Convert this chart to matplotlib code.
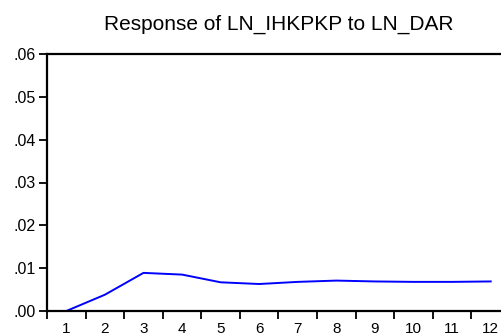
import matplotlib
matplotlib.use("Agg")
import matplotlib.pyplot as plt
import numpy as np

plt.rcParams['font.family'] = ['Liberation Sans', 'DejaVu Sans']

periods = [1, 2, 3, 4, 5, 6, 7, 8, 9, 10, 11, 12]
response = [0.0000, 0.0038, 0.0089, 0.0085, 0.0067, 0.0063,
            0.0068, 0.0071, 0.0069, 0.0068, 0.0068, 0.0069]
yticks = [0.00, 0.01, 0.02, 0.03, 0.04, 0.05, 0.06]
ylabels = ['.00', '.01', '.02', '.03', '.04', '.05', '.06']

fig = plt.figure(figsize=(5.02, 3.36), dpi=100)
# axes run past the right edge of the figure, so the last column gets clipped
ax = fig.add_axes([47/502, 1 - 311/336, 463/502, 257/336])

ax.plot(periods, response, color='#0000ff', lw=1.4)

ax.set_xlim(0.5, 12.5)
ax.set_ylim(0, 0.06)
ax.set_yticks(yticks)
ax.set_yticklabels(ylabels, fontsize=11.5)

# labels at the periods, tick marks between them
ax.set_xticks(periods)
ax.set_xticklabels([str(p) for p in periods], fontsize=11)
ax.tick_params(axis='x', which='major', length=0, pad=8)
ax.set_xticks(np.arange(0.5, 13, 1), minor=True)
ax.tick_params(axis='x', which='minor', direction='out', length=6, width=1.3)
ax.tick_params(axis='y', direction='out', length=6, width=1.3, pad=2)

for s in ax.spines.values():
    s.set_linewidth(1.6)

ax.set_title('Response of LN_IHKPKP to LN_DAR', fontsize=15, pad=17.5)

fig.savefig('out.png', dpi=100)
